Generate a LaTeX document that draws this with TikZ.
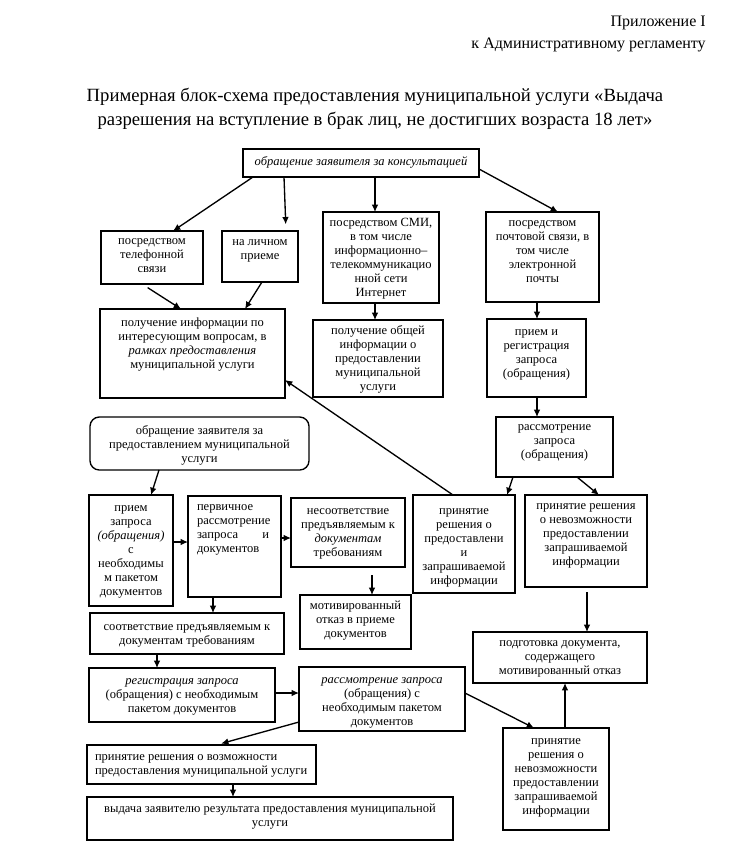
\documentclass[tikz,border=0pt]{standalone}
\usepackage{fontspec}
\setmainfont{Liberation Serif}
\usetikzlibrary{arrows.meta}
\newlength\px
\setlength\px{0.75pt}
\newcommand{\bt}[4]{\parbox[c][#2\px][t]{#1\px}{\centering\vspace*{#3\px}\strut #4\par}}
\newcommand{\btl}[5]{\parbox[c][#2\px][t]{#1\px}{\raggedright\leftskip=#4\px\vspace*{#3\px}\strut #5\par}}
\tikzset{
  box/.style={draw, line width=1pt, inner sep=0pt, outer sep=0pt, anchor=north west,
    font=\fontsize{9.4}{10.5}\selectfont},
  rbox/.style={box, rounded corners=7pt},
  arr/.style={line width=1pt, -{Latex[length=5.5pt,width=5pt]}},
  hdr/.style={inner sep=0pt, font=\fontsize{12}{14}\selectfont},
  ttl/.style={inner sep=0pt, align=center, font=\fontsize{14}{18}\selectfont},
}
\begin{document}
\begin{tikzpicture}[x=0.75pt,y=-0.75pt]
\useasboundingbox[fill=white] (0,0) rectangle (731,851);
% header and title
\node[hdr, anchor=east] (h1) at (706,23) {Приложение I};
\node[hdr, anchor=east] (h2) at (706,45) {к Административному регламенту};
\node[ttl] (t1) at (375,109) {Примерная блок-схема предоставления муниципальной услуги «Выдача\\разрешения на вступление в брак лиц, не достигших возраста 18 лет»};
% boxes
\node[box] (b1) at (243,149) {\bt{236}{28}{7}{\itshape обращение заявителя за консультацией}};
\node[box] (b2) at (101,231) {\bt{102}{53}{4}{посредством\\телефонной\\связи}};
\node[box] (b3) at (222,231) {\bt{76}{51}{5}{на личном\\приеме}};
\node[box] (b4) at (323,212) {\bt{116}{91}{5}{посредством СМИ,\\в том числе\\информационно–\\телекоммуникацио\\нной сети\\Интернет}};
\node[box] (b5) at (486,212) {\bt{113}{90}{5}{посредством\\почтовой связи, в\\том числе\\электронной\\почты}};
\node[box] (b6) at (100,309) {\bt{185}{89}{8}{получение информации по\\интересующим вопросам, в\\\textit{рамках предоставления}\\муниципальной услуги}};
\node[box] (b7) at (313,320) {\bt{130}{77}{5}{получение общей\\информации о\\предоставлении\\муниципальной\\услуги}};
\node[box] (b8) at (487,319) {\bt{99}{78}{7}{прием и\\регистрация\\запроса\\(обращения)}};
\node[box] (b9) at (496,417) {\bt{117}{60}{4}{рассмотрение\\запроса\\(обращения)}};
\node[rbox] (b10) at (90,417) {\bt{219}{53}{8}{обращение заявителя за\\предоставлением муниципальной\\услуги}};
\node[box] (b11) at (89,495) {\bt{84}{111}{7}{прием\\запроса\\\textit{(обращения)}\\с\\необходимы\\м пакетом\\документов}};
\node[box] (b12) at (188,496) {\btl{93}{101}{5}{9}{первичное\\рассмотрение\\\makebox[72\px][l]{запроса\hfill и}\\документов}};
\node[box] (b13) at (291,498) {\bt{114}{69}{7}{несоответствие\\предъявляемым к\\\textit{документам}\\требованиям}};
\node[box] (b14) at (300,595) {\bt{111}{54}{5}{мотивированный\\отказ в приеме\\документов}};
\node[box] (b15) at (90,613) {\bt{194}{41}{8}{соответствие предъявляемым к\\документам требованиям}};
\node[box] (b16) at (413,495) {\bt{102}{98}{10}{принятие\\решения о\\предоставлени\\и\\запрашиваемой\\информации}};
\node[box] (b17) at (525,495) {\bt{122}{92}{5}{принятие решения\\о невозможности\\предоставлении\\запрашиваемой\\информации}};
\node[box] (b18) at (473,632) {\bt{174}{51}{5}{подготовка документа,\\содержащего\\мотивированный отказ}};
\node[box] (b19) at (89,668) {\bt{186}{54}{7}{\textit{регистрация запроса}\\(обращения) с необходимым\\пакетом документов}};
\node[box] (b20) at (299,667) {\bt{166}{64}{7}{\textit{рассмотрение запроса}\\(обращения) с\\необходимым пакетом\\документов}};
\node[box] (b21) at (87,745) {\btl{229}{39}{6}{8}{принятие решения о возможности\\предоставления муниципальной услуги}};
\node[box] (b22) at (87,797) {\bt{366}{43}{6}{выдача заявителю результата предоставления муниципальной\\услуги}};
\node[box] (b23) at (503,728) {\bt{106}{102}{7}{принятие\\решения о\\невозможности\\предоставлении\\запрашиваемой\\информации}};
% connectors
\draw[arr] (b1.south -| 253,0) -- (b2.north -| 173,0);
\draw[arr, shorten >=5pt] (b1.south -| 284,0) -- (b3.north -| 286,0);
\draw[arr] (b1.south -| 375,0) -- (b4.north -| 375,0);
\draw[arr] (b1.east |- 0,169) -- (b5.north -| 558,0);
\draw[arr, shorten <=5pt] (b2.south -| 142,0) -- (b6.north -| 181,0);
\draw[arr] (b3.south -| 262,0) -- (b6.north -| 245,0);
\draw[arr] (b4.south -| 375,0) -- (b7.north -| 375,0);
\draw[arr] (b5.south -| 537,0) -- (b8.north -| 537,0);
\draw[arr] (b8.south -| 537,0) -- (b9.north -| 537,0);
\draw[arr] (b9.south -| 513,0) -- (b16.north -| 507,0);
\draw[arr] (b9.south -| 577,0) -- (b17.north -| 599,0);
\draw[arr] (b16.north -| 453,0) -- (b6.east |- 0,380);
\draw[arr, shorten <=4pt] (b17.south -| 587,0) -- (b18.north -| 587,0);
\draw[arr] (b10.south -| 159,0) -- (b11.north -| 151,0);
\draw[arr] (b11.east |- 0,542) -- (b12.west |- 0,542);
\draw[arr] (b12.east |- 0,538) -- (b13.west |- 0,538);
\draw[arr] (b12.south -| 213,0) -- (b15.north -| 213,0);
\draw[arr, shorten <=6pt] (b13.south -| 372,0) -- (b14.north -| 372,0);
\draw[arr] (b15.south -| 157,0) -- (b19.north -| 157,0);
\draw[arr] (b19.east |- 0,693) -- (b20.west |- 0,693);
\draw[arr, shorten >=4pt] (b20.west |- 0,722) -- (b21.north -| 216,0);
\draw[arr] (b20.east |- 0,693) -- (b23.north -| 534,0);
\draw[arr] (b23.north -| 565,0) -- (b18.south -| 565,0);
\draw[arr] (b21.south -| 233,0) -- (b22.north -| 233,0);
\end{tikzpicture}
\end{document}
